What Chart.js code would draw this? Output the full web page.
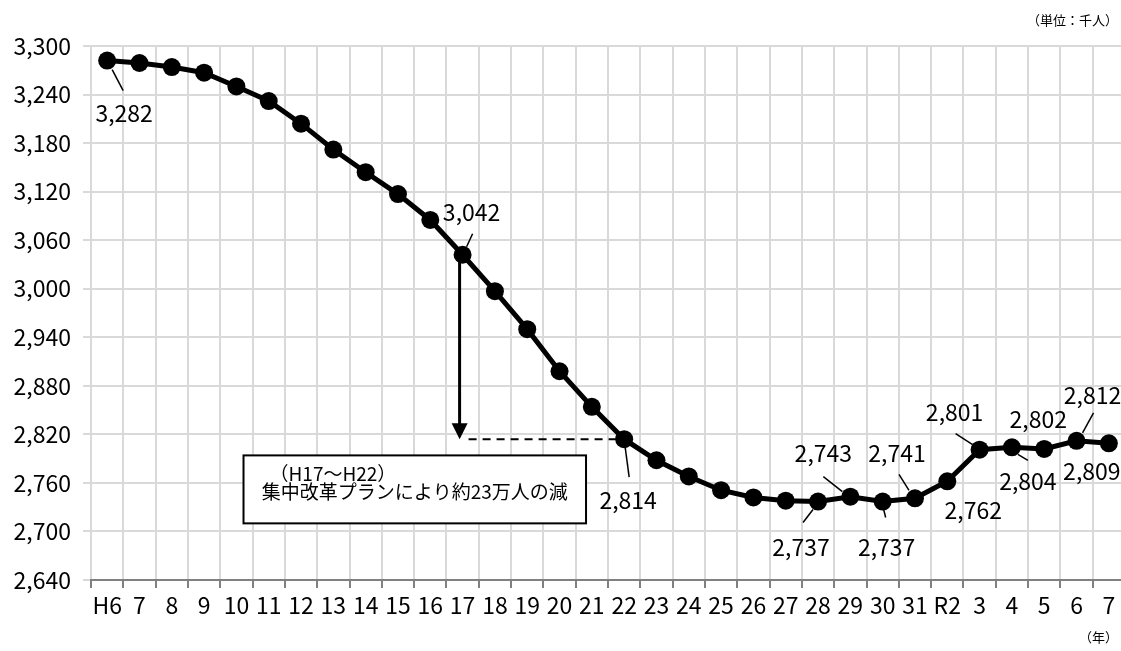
<!DOCTYPE html>
<html>
<head>
<meta charset="utf-8">
<script src="https://cdn.jsdelivr.net/npm/chart.js@4/dist/chart.umd.min.js"></script>
<style>
  html, body { margin: 0; padding: 0; background: #fff; overflow: hidden; }
  #wrap { position: relative; width: 1121px; height: 651px; overflow: hidden; }
</style>
</head>
<body>
<div id="wrap"><canvas id="chart" width="1125" height="651"></canvas></div>
<script>
"use strict";
// values (thousand persons)
var categories = ['H6', '7', '8', '9', '10', '11', '12', '13', '14', '15', '16', '17', '18', '19', '20',
  '21', '22', '23', '24', '25', '26', '27', '28', '29', '30', '31', 'R2', '3', '4', '5', '6', '7'];
var values = [3282, 3279, 3274, 3267, 3250, 3232, 3204, 3172, 3144, 3117, 3085, 3042, 2997, 2950, 2898,
  2854, 2814, 2788, 2768, 2751, 2742, 2738, 2737, 2743, 2737, 2741, 2762, 2801, 2804, 2802, 2812, 2809];
var yMin = 2640;
var yMax = 3300;
var yStep = 60;
var unitText = '（単位：千人）';
var yearText = '（年）';
var noteLine1 = '（H17～H22）';
var noteLine2 = '集中改革プランにより約23万人の減';
var arrowFrom = 11; // H17
var arrowTo = 16;   // H22

// where each value label sits, relative to its point: text offset and leader line
var labelPlaces = [
  { i: 0, dx: 17, dy: 53, lead: [5, 9, 16, 30] },
  { i: 11, dx: 9, dy: -42, lead: [4, -8, 10, -21] },
  { i: 16, dx: 4, dy: 61, lead: [1, 8, 5, 38] },
  { i: 22, dx: -17, dy: 46, lead: [-5, 8, -15, 21] },
  { i: 23, dx: -27, dy: -43, lead: [-8, -5, -27, -20] },
  { i: 24, dx: 4, dy: 46, lead: [1, 8, 3, 16] },
  { i: 25, dx: -18, dy: -45, lead: [-6, -8, -16, -24] },
  { i: 26, dx: 26, dy: 29, lead: null },
  { i: 27, dx: -25, dy: -37, lead: [-7, -5, -24, -16] },
  { i: 28, dx: 16, dy: 34, lead: [6, 7, 16, 13] },
  { i: 29, dx: -6, dy: -30, lead: null },
  { i: 30, dx: 16, dy: -46, lead: [6, -8, 17, -28] },
  { i: 31, dx: -17, dy: 28, lead: null }
];

var FONT = '"Noto Sans CJK JP", "Noto Sans", sans-serif';
var VIEW_W = 1121; // visible window width, canvas runs a bit past it

function fmt(v) {
  return v.toLocaleString('en-US');
}

// note box, arrow and dashed guide under the line
var notePlugin = {
  id: 'notes',
  beforeDatasetsDraw: function (chart) {
    var ctx = chart.ctx;
    var x = chart.scales.x;
    var y = chart.scales.y;
    ctx.save();

    // box: anchored in data units
    var bx1 = x.getPixelForValue(4.22);
    var bx2 = x.getPixelForValue(14.82);
    var by1 = y.getPixelForValue(2794);
    var by2 = y.getPixelForValue(2710);
    ctx.fillStyle = '#fff';
    ctx.fillRect(bx1, by1, bx2 - bx1, by2 - by1);
    ctx.lineWidth = 2;
    ctx.strokeStyle = '#000';
    ctx.strokeRect(bx1, by1, bx2 - bx1, by2 - by1);
    ctx.fillStyle = '#000';
    ctx.font = '19px ' + FONT;
    ctx.textBaseline = 'middle';
    ctx.textAlign = 'left';
    ctx.fillText(noteLine1, bx1 + 26, by1 + 18);
    ctx.textAlign = 'center';
    ctx.fillText(noteLine2, (bx1 + bx2) / 2, by1 + 36);

    // arrow down from H17 to the H22 level
    var ax = x.getPixelForValue(arrowFrom) - 3;
    var ay1 = y.getPixelForValue(values[arrowFrom]);
    var ay2 = y.getPixelForValue(values[arrowTo]);
    ctx.lineWidth = 3;
    ctx.beginPath();
    ctx.moveTo(ax, ay1);
    ctx.lineTo(ax, ay2 - 14);
    ctx.stroke();
    ctx.beginPath();
    ctx.moveTo(ax - 8, ay2 - 16);
    ctx.lineTo(ax + 8, ay2 - 16);
    ctx.lineTo(ax, ay2);
    ctx.closePath();
    ctx.fill();

    // dashed guide to H22
    ctx.lineWidth = 2;
    ctx.setLineDash([8, 6]);
    ctx.beginPath();
    ctx.moveTo(ax + 9, ay2);
    ctx.lineTo(x.getPixelForValue(arrowTo), ay2);
    ctx.stroke();
    ctx.setLineDash([]);
    ctx.restore();
  },
  afterDatasetsDraw: function (chart) {
    var ctx = chart.ctx;
    var meta = chart.getDatasetMeta(0);
    ctx.save();
    ctx.fillStyle = '#000';
    ctx.strokeStyle = '#000';
    ctx.lineWidth = 1.5;
    ctx.font = '23px ' + FONT;
    ctx.textAlign = 'center';
    ctx.textBaseline = 'middle';
    labelPlaces.forEach(function (p) {
      var pt = meta.data[p.i];
      if (p.lead) {
        ctx.beginPath();
        ctx.moveTo(pt.x + p.lead[0], pt.y + p.lead[1]);
        ctx.lineTo(pt.x + p.lead[2], pt.y + p.lead[3]);
        ctx.stroke();
      }
      ctx.fillText(fmt(values[p.i]), pt.x + p.dx, pt.y + p.dy);
    });

    // unit and year captions
    ctx.font = '13px ' + FONT;
    ctx.textAlign = 'right';
    ctx.fillText(unitText, VIEW_W - 3, 20);
    ctx.fillText(yearText, VIEW_W - 3, chart.height - 14);
    ctx.restore();
  }
};

var ctx = document.getElementById('chart').getContext('2d');
var chart = new Chart(ctx, {
  type: 'line',
  data: {
    labels: categories,
    datasets: [{
      data: values,
      borderColor: '#000',
      backgroundColor: '#000',
      borderWidth: 5,
      pointRadius: 9,
      pointBackgroundColor: '#000',
      pointBorderWidth: 0,
      tension: 0
    }]
  },
  options: {
    responsive: false,
    animation: false,
    events: [],
    layout: { autoPadding: false, padding: { top: 46, right: 0, left: 0, bottom: 0 } },
    plugins: {
      legend: { display: false },
      tooltip: { enabled: false }
    },
    scales: {
      x: {
        offset: true,
        grid: {
          offset: true,
          color: '#d9d9d9',
          lineWidth: 2,
          tickColor: '#808080',
          tickLength: 8
        },
        border: { color: '#808080', width: 2 },
        ticks: {
          color: '#000',
          font: { family: FONT, size: 23 },
          padding: 3,
          maxRotation: 0,
          autoSkip: false
        },
        afterFit: function (scale) { scale.height = 71; }
      },
      y: {
        min: yMin,
        max: yMax,
        grid: {
          color: '#d9d9d9',
          lineWidth: 2,
          tickLength: 8
        },
        border: { display: false },
        ticks: {
          stepSize: yStep,
          color: '#000',
          font: { family: FONT, size: 23 },
          padding: 12,
          callback: function (v) { return fmt(v); }
        },
        afterFit: function (scale) { scale.width = 91; }
      }
    }
  },
  plugins: [notePlugin]
});
</script>
</body>
</html>
